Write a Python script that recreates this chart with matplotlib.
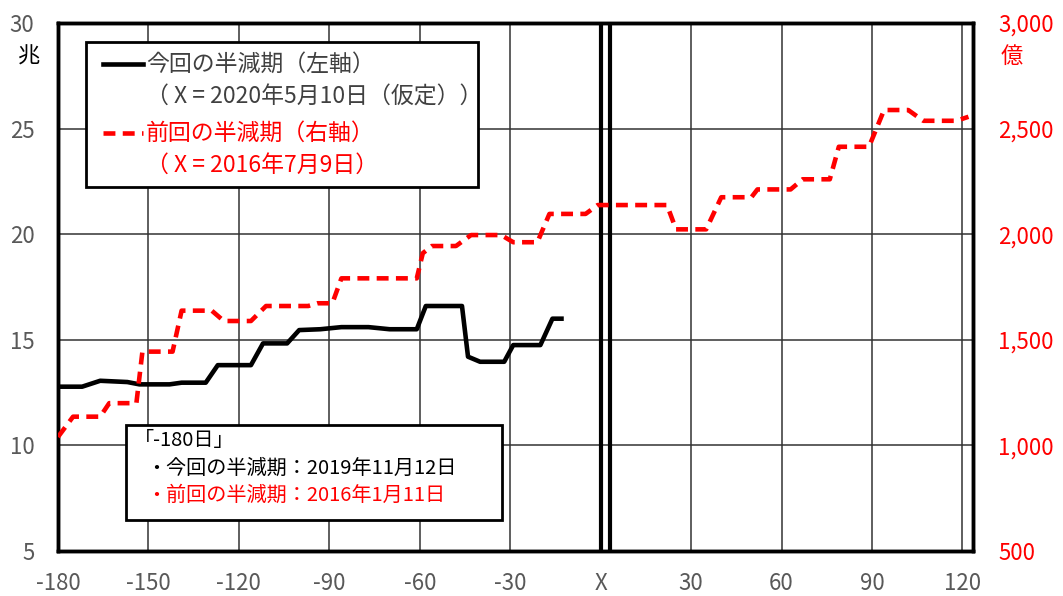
import numpy as np
import matplotlib.pyplot as plt
from matplotlib.patches import Rectangle
from matplotlib.lines import Line2D
from matplotlib.ticker import FuncFormatter

plt.rcParams['font.family'] = ['Noto Sans CJK JP', 'DejaVu Sans']

# 今回の半減期 (兆, 左軸): X = 2020/5/10 からの日数
cur_days = [-180, -172, -166, -157, -153, -143, -139, -131, -127, -116, -112, -104,
            -100, -93, -86, -77, -70, -61, -58, -46, -44, -40, -32, -29, -20, -16, -13]
cur_vals = [12.78, 12.78, 13.06, 13.0, 12.89, 12.89, 12.97, 12.97, 13.8, 13.8, 14.83, 14.83,
            15.46, 15.5, 15.6, 15.6, 15.5, 15.5, 16.6, 16.6, 14.2, 13.96, 13.96, 14.75, 14.75, 16.0, 16.0]

# 前回の半減期 (億, 右軸): X = 2016/7/9 からの日数
prev_days = [-180, -175, -166, -163, -154, -152, -142, -139, -129, -125, -116, -111, -97, -94,
             -89, -86, -61, -59, -56, -48, -43, -33, -29, -21, -17, -5, -1, 22, 25, 35, 40,
             50, 52, 63, 67, 76, 79, 89, 94, 102, 107, 118, 122]
prev_vals = [1040, 1136, 1136, 1200, 1200, 1444, 1444, 1638, 1638, 1589, 1589, 1660, 1660, 1673,
             1673, 1791, 1791, 1910, 1944, 1944, 1996, 1996, 1962, 1962, 2096, 2096, 2138, 2138,
             2023, 2023, 2175, 2175, 2212, 2212, 2260, 2260, 2414, 2414, 2588, 2588, 2537, 2537, 2556]

x_ticks = [-180, -150, -120, -90, -60, -30, 0, 30, 60, 90, 120]
x_labels = ['-180', '-150', '-120', '-90', '-60', '-30', 'X', '30', '60', '90', '120']
left_ticks = [5, 10, 15, 20, 25, 30]
right_ticks = [500, 1000, 1500, 2000, 2500, 3000]
x_marks = [0, 3]

grey = '#595959'

fig = plt.figure(figsize=(10.63, 5.96), dpi=100)
ax = fig.add_axes([58/1063, 1-551/596, (973-58)/1063, (551-23)/596])
ax2 = ax.twinx()

ax.set_xlim(-180, 123.5)
ax.set_ylim(5, 30)
ax2.set_ylim(500, 3000)

ax.set_xticks(x_ticks)
ax.set_xticklabels(x_labels)
ax.set_yticks(left_ticks)
ax2.set_yticks(right_ticks)
ax2.yaxis.set_major_formatter(FuncFormatter(lambda v, p: f'{int(v):,}'))

ax.grid(True, color='#333333', lw=1.1)
ax.tick_params(axis='x', length=0, pad=15, labelsize=16, labelcolor=grey)
ax.tick_params(axis='y', length=0, pad=17, labelsize=16, labelcolor=grey)
ax2.tick_params(axis='y', length=0, pad=18, labelsize=16, labelcolor='red')
for lbl in ax2.get_yticklabels():
    lbl.set_ha('left')

for a in (ax, ax2):
    for s in a.spines.values():
        s.set_linewidth(2.5)
        s.set_color('black')

for xm in x_marks:
    ax.axvline(xm, color='black', lw=3, zorder=3)

ax.plot(cur_days, cur_vals, color='black', lw=3.3, solid_joinstyle='round', zorder=4)
ax2.plot(prev_days, prev_vals, color='red', lw=3.3, dashes=(2.6, 1.6), zorder=4)

# 単位
fig.text(29/1063, 1-56/596, '兆', fontsize=16, ha='center', va='center', color='black')
fig.text(1012/1063, 1-56/596, '億', fontsize=16, ha='center', va='center', color='red')

# 凡例ボックス
def px(x, y):
    return x/1063, 1-y/596

x0, y0 = px(86, 187)
x1, y1 = px(478, 42)
fig.add_artist(Rectangle((x0, y0), x1-x0, y1-y0, transform=fig.transFigure,
                         facecolor='white', edgecolor='black', lw=2, zorder=5))
fig.add_artist(Line2D([103/1063, 143/1063], [1-64/596]*2, transform=fig.transFigure,
                      color='black', lw=3.3, zorder=6))
fig.add_artist(Line2D([103/1063, 143/1063], [1-133/596]*2, transform=fig.transFigure,
                      color='red', lw=3.3, dashes=(2.6, 1.6), zorder=6))
fig.text(*px(146, 64), '今回の半減期（左軸）', fontsize=16.5, color='#404040', va='center', zorder=6)
fig.text(*px(146, 97), '（ X = 2020年5月10日（仮定））', fontsize=16.5, color='#404040', va='center', zorder=6)
fig.text(*px(146, 133), '前回の半減期（右軸）', fontsize=16.5, color='red', va='center', zorder=6)
fig.text(*px(146, 165), '（ X = 2016年7月9日）', fontsize=16.5, color='red', va='center', zorder=6)

# 注記ボックス
x0, y0 = px(126, 520)
x1, y1 = px(502, 425)
fig.add_artist(Rectangle((x0, y0), x1-x0, y1-y0, transform=fig.transFigure,
                         facecolor='white', edgecolor='black', lw=2, zorder=5))
fig.text(*px(134, 441), '「-180日」', fontsize=14.5, color='black', va='center', zorder=6)
fig.text(*px(146, 468), '・今回の半減期：2019年11月12日', fontsize=14.5, color='black', va='center', zorder=6)
fig.text(*px(146, 495), '・前回の半減期：2016年1月11日', fontsize=14.5, color='red', va='center', zorder=6)

fig.savefig('out.png', dpi=100)
